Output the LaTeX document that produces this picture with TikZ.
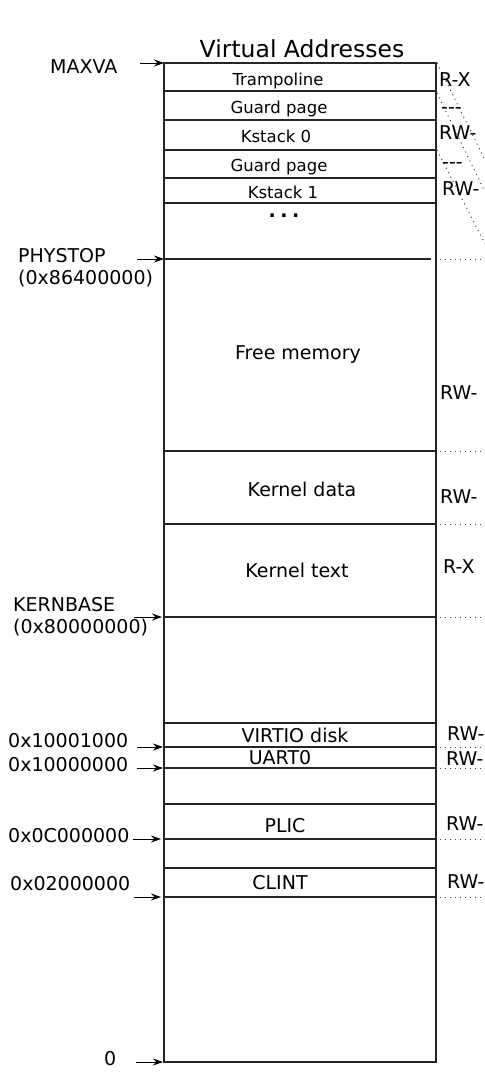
\documentclass[tikz,border=0pt]{standalone}
\usepackage{fontspec}
\newfontfamily\dejavu{DejaVu Sans}
\usepackage{tikz}
\usetikzlibrary{arrows.meta}

\begin{document}
\begin{tikzpicture}[x=1pt, y=-1pt, every node/.style={font=\dejavu\fontsize{19}{22}\selectfont, inner sep=0pt}]
  \tikzstyle{region}=[anchor=base, font=\dejavu\fontsize{16.5}{20}\selectfont]
  \tikzstyle{bigregion}=[anchor=base]
  \tikzstyle{perm}=[anchor=base west]
  \tikzstyle{addr}=[anchor=base west]
  \tikzstyle{divider}=[line width=1.4pt, black!85]
  \tikzstyle{mapline}=[line width=1pt, dash pattern=on 1pt off 4pt, black!75]
  \tikzstyle{addrarrow}=[-{Stealth[length=10pt,width=7pt]}, line width=1pt]
  \useasboundingbox (0,0) rectangle (485,1088);
  \node[anchor=base, font=\dejavu\fontsize{23.5}{27}\selectfont] (title) at (302,57) {Virtual Addresses};
  % the address space
  \draw[line width=2pt, black!85] (164,63) rectangle (436,1062);
  \foreach \y in {91,120,150,178,203,451,524,617,723,747,768,804,839,868,897}
    \draw[divider] (164,\y) -- (436,\y);
  \draw[divider] (164,259) -- (431,259);
  % mappings to physical memory
  \foreach \y in {259,451,524,617,747,768,839,897}
    \draw[mapline] (440,\y) -- (485,\y);
  \draw[mapline] (437,63) -- (485,160);
  \draw[mapline] (437,93) -- (485,192);
  \draw[mapline] (437,150) -- (485,244);
  % regions
  \node[region] (tramp) at (278,85) {Trampoline};
  \node[region] (guard0) at (279,113) {Guard page};
  \node[region] (kstack0) at (276,142) {Kstack 0};
  \node[region] (guard1) at (279,171) {Guard page};
  \node[region] (kstack1) at (283,198) {Kstack 1};
  \node[anchor=base, font=\dejavu\bfseries\fontsize{19}{22}\selectfont] (more) at (284,217) {.\kern4.5pt.\kern4.5pt.};
  \node[bigregion] (freemem) at (298,359) {Free memory};
  \node[bigregion] (kdata) at (302,496) {Kernel data};
  \node[bigregion] (ktext) at (297,577) {Kernel text};
  \node[bigregion] (virtio) at (295,742) {VIRTIO disk};
  \node[bigregion] (uart) at (280,764) {UART0};
  \node[bigregion] (plic) at (285,832) {PLIC};
  \node[bigregion] (clint) at (280,889) {CLINT};
  % permissions
  \node[perm] (ptramp) at (439,86) {R-X};
  \node[perm] (pguard0) at (441,113) {-\kern0pt-\kern0pt-};
  \node[perm] (pkstack0) at (439,139) {RW-};
  \node[perm] (pguard1) at (442,168) {-\kern0pt-\kern0pt-};
  \node[perm] (pkstack1) at (442,195) {RW-};
  \node[perm] (pfreemem) at (440,399) {RW-};
  \node[perm] (pkdata) at (440,503) {RW-};
  \node[perm] (pktext) at (443,573) {R-X};
  \node[perm] (pvirtio) at (447,740) {RW-};
  \node[perm] (puart) at (446,765) {RW-};
  \node[perm] (pplic) at (446,830) {RW-};
  \node[perm] (pclint) at (447,888) {RW-};
  % addresses
  \node[addr] (maxva) at (50,73) {MAXVA};
  \node[anchor=west, align=left] (phystop) at (18,268) {PHYSTOP\\(0x86400000)};
  \node[anchor=west, align=left] (kernbase) at (13,617) {KERNBASE\\(0x80000000)};
  \node[addr] (avirtio) at (8,747) {0x10001000};
  \node[addr] (auart) at (8,771) {0x10000000};
  \node[addr] (aplic) at (8,842) {0x0C000000};
  \node[addr] (aclint) at (10,890) {0x02000000};
  \node[addr] (azero) at (104,1065) {0};
  \foreach \n/\xt/\xh/\y in {maxva/140/164/63, phystop/137/164/259, kernbase/134/162/617,
      avirtio/137/163/747, auart/137/163/768, aplic/133/161/839, aclint/134/161/897, azero/136/163/1062} {
    \coordinate (\n-t) at (\xt,\y);
    \coordinate (\n-h) at (\xh,\y);
    \draw[addrarrow] (\n-t) -- (\n-h);
  }
\end{tikzpicture}
\end{document}
